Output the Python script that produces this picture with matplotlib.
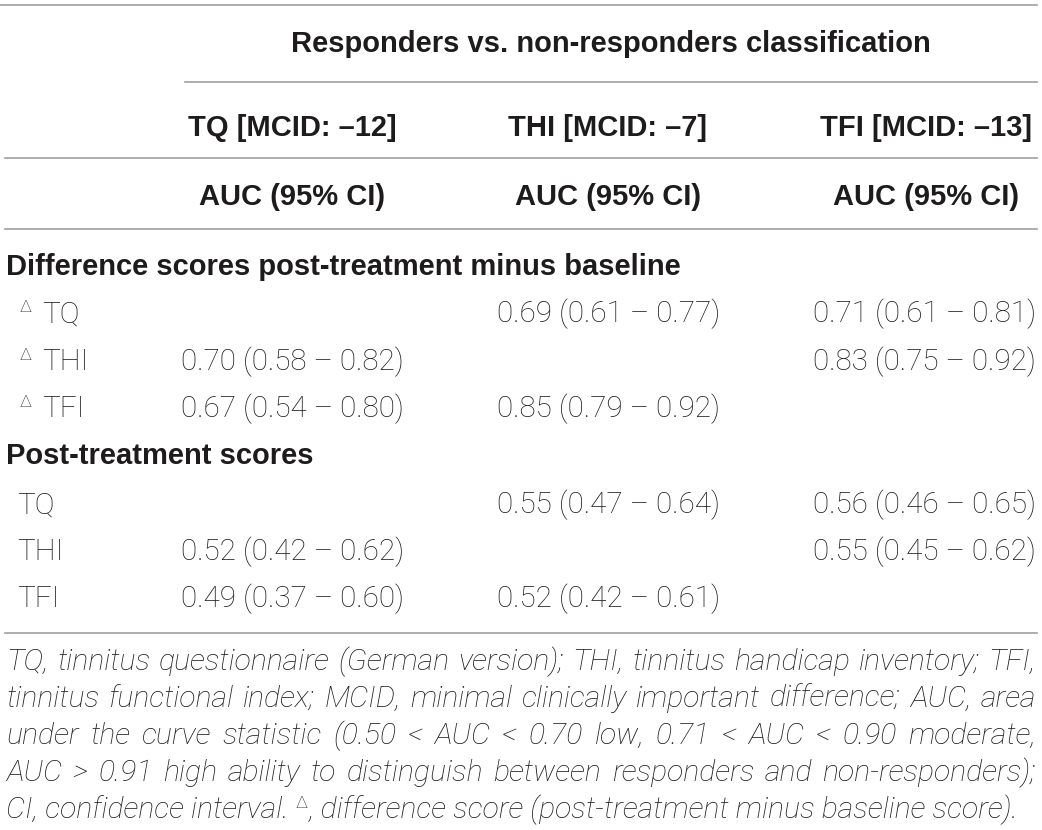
import math
import matplotlib
matplotlib.use('Agg')
import matplotlib.pyplot as plt
from matplotlib.lines import Line2D

# ---------------- data ----------------
title = 'Responders vs. non-responders classification'
col_headers = ['TQ [MCID: \u201312]', 'THI [MCID: \u20137]', 'TFI [MCID: \u201313]']
sub_header = 'AUC (95% CI)'
sections = ['Difference scores post-treatment minus baseline', 'Post-treatment scores']
row_labels = ['TQ', 'THI', 'TFI']

nan = float('nan')
diff_auc = [[nan, 0.69, 0.71], [0.70, nan, 0.83], [0.67, 0.85, nan]]
diff_lo = [[nan, 0.61, 0.61], [0.58, nan, 0.75], [0.54, 0.79, nan]]
diff_hi = [[nan, 0.77, 0.81], [0.82, nan, 0.92], [0.80, 0.92, nan]]

post_auc = [[nan, 0.55, 0.56], [0.52, nan, 0.55], [0.49, 0.52, nan]]
post_lo = [[nan, 0.47, 0.46], [0.42, nan, 0.45], [0.37, 0.42, nan]]
post_hi = [[nan, 0.64, 0.65], [0.62, nan, 0.62], [0.60, 0.61, nan]]

footnote_lines = [
    'TQ, tinnitus questionnaire (German version); THI, tinnitus handicap inventory; TFI,',
    'tinnitus functional index; MCID, minimal clinically important difference; AUC, area',
    'under the curve statistic (0.50 < AUC < 0.70 low, 0.71 < AUC < 0.90 moderate,',
    'AUC > 0.91 high ability to distinguish between responders and non-responders);',
]
footnote_last = ['CI, confidence interval.', '\u0394', ', difference score (post-treatment minus baseline score).']

# ---------------- layout ----------------
W, H = 1042, 830
DPI = 100
TEXT = '#1e1b1c'
RULE = '#a0a0a0'
FAM = ['Liberation Sans', 'DejaVu Sans']
LIGHT = ['Roboto', 'Liberation Sans', 'DejaVu Sans']
BODY = 21.3
BOLD = 21.0
FOOT = 21.8
SUP = 12.5

fig = plt.figure(figsize=(W / DPI, H / DPI), dpi=DPI)
fig.patch.set_facecolor('white')
renderer = fig.canvas.get_renderer()


def put(x, y, s, **kw):
    kw.setdefault('color', TEXT)
    kw.setdefault('family', FAM)
    kw.setdefault('va', 'baseline')
    return fig.text(x / W, 1 - y / H, s, **kw)


def width(s, **kw):
    t = put(0, 0, s, **kw)
    w = t.get_window_extent(renderer).width
    t.remove()
    return w


def rule(y, x0, x1):
    fig.add_artist(Line2D([x0 / W, x1 / W], [1 - y / H, 1 - y / H],
                          transform=fig.transFigure, color=RULE, lw=1.2))


def fmt(a, l, h):
    if math.isnan(a):
        return ''
    return f'{a:.2f} ({l:.2f} \u2013 {h:.2f})'


body_kw = dict(fontsize=BODY, family=LIGHT, fontweight='light')

XL, XR = 5, 1037
# rules
rule(5, XL - 5, XR)
rule(82, 185, XR)
rule(158, XL, XR)
rule(229, XL, XR)
rule(633, XL, XR)

# headers
put(611, 52, title, ha='center', fontsize=BOLD, fontweight='bold')
col_centers = [292, 608, 926]
for cx, h in zip(col_centers, col_headers):
    put(cx, 136, h, ha='center', fontsize=BOLD, fontweight='bold')
    put(cx, 205, sub_header, ha='center', fontsize=BOLD, fontweight='bold')

col_left = [181, 497, 813]

# section 1
put(6, 275, sections[0], fontsize=BOLD, fontweight='bold')
diff_base = [322, 370, 417]
for i, yb in enumerate(diff_base):
    put(20, yb - 10, '\u0394', fontsize=SUP, family=LIGHT, fontweight='light')
    put(42, yb, row_labels[i], **body_kw)
    for j in range(3):
        s = fmt(diff_auc[i][j], diff_lo[i][j], diff_hi[i][j])
        if s:
            put(col_left[j], yb, s, **body_kw)

# section 2
put(6, 464, sections[1], fontsize=BOLD, fontweight='bold')
post_base = [513, 560, 607]
for i, yb in enumerate(post_base):
    put(17, yb, row_labels[i], **body_kw)
    for j in range(3):
        s = fmt(post_auc[i][j], post_lo[i][j], post_hi[i][j])
        if s:
            put(col_left[j], yb, s, **body_kw)

# footnote (justified)
foot_kw = dict(fontsize=FOOT, style='italic', family=LIGHT, fontweight='light')
foot_base = [670, 707, 744, 781, 818]
fx0, fx1 = 6, 1036
for line, yb in zip(footnote_lines, foot_base):
    words = line.split(' ')
    ws = [width(w, **foot_kw) for w in words]
    gap = (fx1 - fx0 - sum(ws)) / (len(words) - 1)
    x = fx0
    for w, wd in zip(words, ws):
        put(x, yb, w, **foot_kw)
        x += wd + gap

yb = foot_base[-1]
space_w = width('a a', **foot_kw) - width('aa', **foot_kw)
x = fx0
put(x, yb, footnote_last[0], **foot_kw)
x += width(footnote_last[0], **foot_kw) + space_w
put(x, yb - 10, footnote_last[1], fontsize=SUP, family=LIGHT, fontweight='light')
x += width(footnote_last[1], fontsize=SUP, family=LIGHT) + 1
put(x, yb, footnote_last[2], **foot_kw)

fig.savefig('out.png', dpi=DPI, facecolor='white')
